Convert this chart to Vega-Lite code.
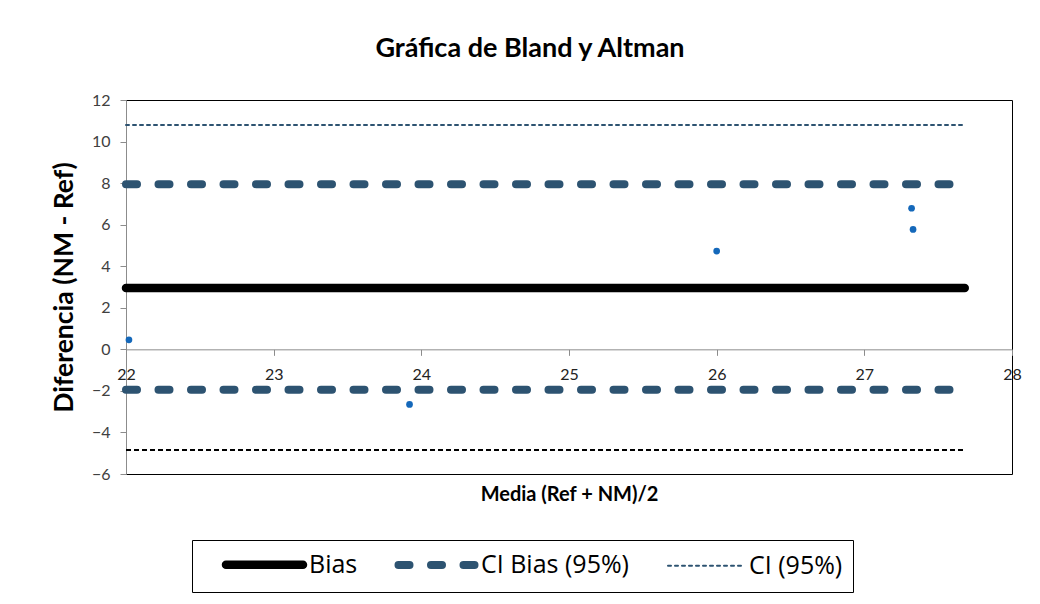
{
  "$schema": "https://vega.github.io/schema/vega-lite/v6.json",
  "autosize": "none",
  "width": 886,
  "height": 374,
  "padding": {"left": 126, "top": 100, "right": 28, "bottom": 130},
  "background": "white",
  "title": {
    "text": "Gráfica de Bland y Altman",
    "font": "Lato",
    "fontSize": 27,
    "fontWeight": "bold",
    "color": "black",
    "anchor": "middle",
    "dx": -39,
    "offset": 29
  },
  "config": {
    "view": {"stroke": "black", "strokeWidth": 1},
    "font": "Lato"
  },
  "datasets": {
    "lines": [
      {"line": "bias", "series": "Bias", "x": 22, "y": 2.95},
      {"line": "bias", "series": "Bias", "x": 27.68, "y": 2.95},
      {"line": "cib_up", "series": "CI Bias (95%)", "x": 22, "y": 7.95},
      {"line": "cib_up", "series": "CI Bias (95%)", "x": 27.68, "y": 7.95},
      {"line": "cib_lo", "series": "CI Bias (95%)", "x": 22, "y": -1.95},
      {"line": "cib_lo", "series": "CI Bias (95%)", "x": 27.68, "y": -1.95},
      {"line": "ci_up", "series": "CI (95%)", "x": 22, "y": 10.8},
      {"line": "ci_up", "series": "CI (95%)", "x": 27.68, "y": 10.8}
    ],
    "lower": [
      {"x": 22, "y": -4.85},
      {"x": 27.68, "y": -4.85}
    ],
    "points": [
      {"x": 22.02, "y": 0.46},
      {"x": 23.92, "y": -2.65},
      {"x": 26.0, "y": 4.73},
      {"x": 27.32, "y": 6.79},
      {"x": 27.33, "y": 5.77}
    ]
  },
  "encoding": {
    "x": {
      "field": "x",
      "type": "quantitative",
      "scale": {"domain": [22, 28], "nice": false, "zero": false},
      "axis": {
        "title": "Media (Ref + NM)/2",
        "values": [22, 23, 24, 25, 26, 27, 28],
        "format": "d",
        "offset": -124.67,
        "domainColor": "#8c8c8c",
        "tickColor": "#8c8c8c",
        "tickSize": 6,
        "labelPadding": 11,
        "labelFontSize": 16,
        "labelColor": "#222222",
        "labelFont": "Lato",
        "labelOverlap": false,
        "labelFlush": false,
        "labelBound": false,
        "grid": false,
        "titleFont": "Lato",
        "titleFontSize": 20,
        "titleFontWeight": "bold",
        "titleColor": "black",
        "titleBaseline": "middle",
        "titleY": 145,
        "titleX": 443
      }
    },
    "y": {
      "field": "y",
      "type": "quantitative",
      "scale": {"domain": [-6, 12], "nice": false, "zero": false},
      "axis": {
        "title": "Diferencia  (NM - Ref)",
        "values": [-6, -4, -2, 0, 2, 4, 6, 8, 10, 12],
        "domainColor": "#8c8c8c",
        "tickColor": "#8c8c8c",
        "tickSize": 6,
        "labelPadding": 10,
        "labelFontSize": 16,
        "labelColor": "#404040",
        "labelFont": "Lato",
        "grid": false,
        "titleFont": "Lato",
        "titleFontSize": 26.5,
        "titleFontWeight": "bold",
        "titleColor": "black",
        "titlePadding": 13
      }
    }
  },
  "layer": [
    {
      "data": {"name": "lower"},
      "mark": {"type": "line", "color": "black", "strokeWidth": 2, "strokeDash": [5, 3]}
    },
    {
      "data": {"name": "lines"},
      "mark": {"type": "line", "strokeCap": "round"},
      "encoding": {
        "detail": {"field": "line"},
        "color": {
          "field": "series",
          "type": "nominal",
          "scale": {
            "domain": ["Bias", "CI Bias (95%)", "CI (95%)"],
            "range": ["black", "#2D5371", "#2D5371"]
          },
          "legend": {
            "title": null,
            "orient": "none",
            "direction": "horizontal",
            "legendX": 66,
            "legendY": 440,
            "strokeColor": "black",
            "padding": 10,
            "symbolType": "M-3.85,0H3.85",
            "symbolSize": 400,
            "symbolOffset": 48,
            "labelFont": "Open Sans",
            "labelFontSize": 25,
            "labelColor": "black",
            "labelOffset": 30,
            "columnPadding": 17,
            "labelLimit": 300,
            "encode": {"symbols": {"update": {"strokeCap": {"value": "round"}}}}
          }
        },
        "strokeDash": {
          "field": "series",
          "type": "nominal",
          "scale": {
            "domain": ["Bias", "CI Bias (95%)", "CI (95%)"],
            "range": [[1, 0], [11, 21.5], [3, 4]]
          }
        },
        "strokeWidth": {
          "field": "series",
          "type": "nominal",
          "scale": {
            "type": "ordinal",
            "domain": ["Bias", "CI Bias (95%)", "CI (95%)"],
            "range": [8.5, 8, 2]
          }
        }
      }
    },
    {
      "data": {"name": "points"},
      "mark": {"type": "point", "filled": true, "opacity": 1, "color": "#1468BA", "size": 45}
    }
  ]
}
